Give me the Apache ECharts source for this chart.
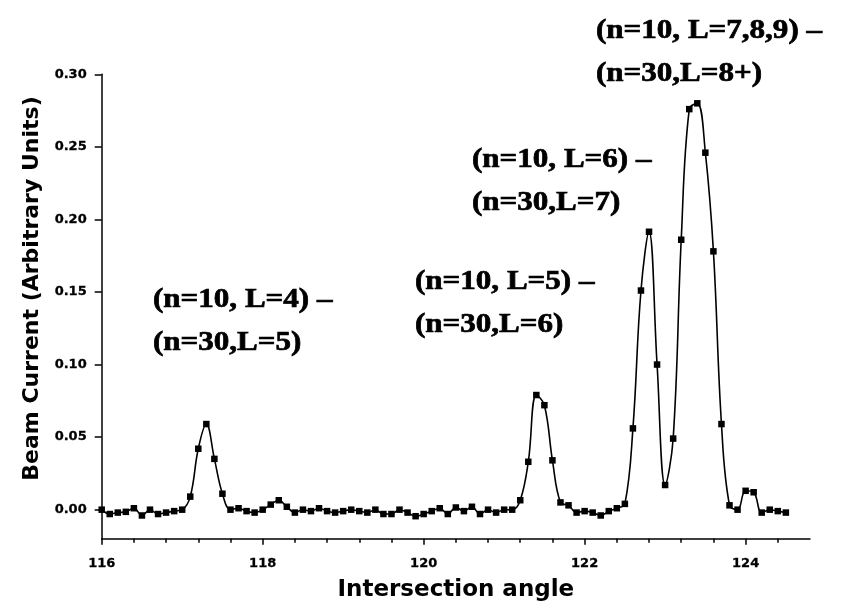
<!DOCTYPE html>
<html>
<head>
<meta charset="utf-8">
<script src="https://cdn.jsdelivr.net/npm/echarts@6/dist/echarts.min.js"></script>
<style>html,body{margin:0;padding:0;background:#fff}#c{width:860px;height:616px}</style>
</head>
<body>
<div id="c"></div>
<script>
// Data
const angles = [116.0,116.1,116.2,116.3,116.4,116.5,116.6,116.7,116.8,116.9,
  117.0,117.1,117.2,117.3,117.4,117.5,117.6,117.7,117.8,117.9,
  118.0,118.1,118.2,118.3,118.4,118.5,118.6,118.7,118.8,118.9,
  119.0,119.1,119.2,119.3,119.4,119.5,119.6,119.7,119.8,119.9,
  120.0,120.1,120.2,120.3,120.4,120.5,120.6,120.7,120.8,120.9,
  121.0,121.1,121.2,121.3,121.4,121.5,121.6,121.7,121.8,121.9,
  122.0,122.1,122.2,122.3,122.4,122.5,122.6,122.7,122.8,122.9,
  123.0,123.1,123.2,123.3,123.4,123.5,123.6,123.7,123.8,123.9,
  124.0,124.1,124.2,124.3,124.4,124.5];
const beamCurrent = [0.000,-0.003,-0.002,-0.0015,0.001,-0.004,0.000,-0.003,-0.002,-0.001,
  0.000,0.009,0.042,0.059,0.035,0.011,0.000,0.001,-0.001,-0.002,
  0.000,0.0035,0.0065,0.002,-0.002,0.000,-0.001,0.001,-0.001,-0.002,
  -0.001,0.000,-0.001,-0.002,0.000,-0.003,-0.003,0.000,-0.002,-0.0045,
  -0.003,-0.001,0.001,-0.003,0.0015,-0.001,0.002,-0.003,0.000,-0.002,
  0.000,0.000,0.0065,0.033,0.079,0.072,0.034,0.005,0.003,-0.002,
  -0.001,-0.002,-0.004,-0.001,0.001,0.004,0.056,0.151,0.1915,0.100,
  0.017,0.049,0.186,0.276,0.280,0.246,0.178,0.059,0.003,0.000,
  0.013,0.012,-0.002,0.000,-0.001,-0.002];
const xTickLabels = [116,118,120,122,124];
const xMinorTicks = [116.4,116.8,117.2,117.6,118.4,118.8,119.2,119.6,120.4,120.8,121.2,121.6,
  122.4,122.8,123.2,123.6,124.4];
const yTickLabels = [0,0.05,0.10,0.15,0.20,0.25,0.30];
const annotations = [
  ['(n=10, L=4) \u2013','(n=30,L=5)'],
  ['(n=10, L=5) \u2013','(n=30,L=6)'],
  ['(n=10, L=6) \u2013','(n=30,L=7)'],
  ['(n=10, L=7,8,9) \u2013','(n=30,L=8+)']
];
const annotationPos = [[153,300],[415,282],[472,160],[596,31]];

const chart = echarts.init(document.getElementById('c'), null, {renderer:'canvas'});
const tickFont = {fontFamily:'DejaVu Sans', fontWeight:'bold', fontSize:13, color:'#000',
  textBorderColor:'#000', textBorderWidth:0.3};
const graphics = [];
annotations.forEach((lines, i) => {
  lines.forEach((t, j) => {
    graphics.push({type:'text', x:annotationPos[i][0], y:annotationPos[i][1] + j*43, scaleX:1.15,
      style:{text:t, fill:'#000', stroke:'#000', lineWidth:0.7,
        font:'bold 27px "Liberation Serif"', align:'left', verticalAlign:'middle'}});
  });
});
chart.setOption({
  animation:false,
  backgroundColor:'#fff',
  grid:{left:101.7, right:50, top:74.3, bottom:77.3, containLabel:false},
  xAxis:[{
    type:'value', min:116, max:124.8, position:'bottom',
    name:'Intersection angle', nameLocation:'middle', nameGap:40,
    nameTextStyle:{fontFamily:'DejaVu Sans', fontWeight:'bold', fontSize:23, color:'#000'},
    axisLine:{show:true, onZero:false, lineStyle:{color:'#000', width:1.5}},
    axisTick:{show:true, inside:false, length:6, customValues:xTickLabels, lineStyle:{color:'#000', width:1.5}},
    axisLabel:Object.assign({customValues:xTickLabels, margin:18}, tickFont),
    splitLine:{show:false}
  },{
    type:'value', min:116, max:124.8, position:'bottom', gridIndex:0,
    axisLine:{show:false, onZero:false},
    axisTick:{show:true, length:4, customValues:xMinorTicks, lineStyle:{color:'#000', width:1.5}},
    axisLabel:{show:false}, splitLine:{show:false}
  }],
  yAxis:{
    type:'value', min:-0.02, max:0.30,
    name:'Beam Current (Arbitrary Units)', nameLocation:'middle', nameGap:58,
    nameTextStyle:{fontFamily:'DejaVu Sans', fontWeight:'bold', fontSize:22, color:'#000', padding:[0,0,0,36]},
    axisLine:{show:true, onZero:false, lineStyle:{color:'#000', width:1.5}},
    axisTick:{show:true, length:7, customValues:yTickLabels, lineStyle:{color:'#000', width:1.5}},
    axisLabel:Object.assign({customValues:yTickLabels, margin:15, formatter:v => v.toFixed(2)}, tickFont),
    splitLine:{show:false}
  },
  series:[{
    type:'line', xAxisIndex:0,
    data:angles.map((a,i) => [a, beamCurrent[i]]),
    smooth:0.4, symbol:'rect', symbolSize:6.5, showAllSymbol:true,
    lineStyle:{color:'#000', width:1.6},
    itemStyle:{color:'#000'}
  }],
  graphic:graphics
});
</script>
</body>
</html>
